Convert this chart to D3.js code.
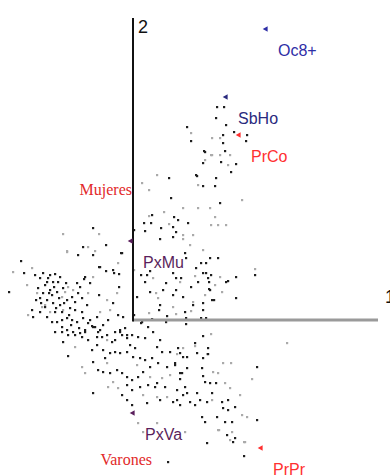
<!DOCTYPE html>
<html>
<head>
<meta charset="utf-8">
<script src="https://cdn.jsdelivr.net/npm/d3@7"></script>
<style>
  body { margin: 0; background: #fff; }
  svg { display: block; }
</style>
</head>
<body>
<div id="chart"></div>
<script>
// coordinates on factorial axes 1 and 2, in hundredths
let darkPoints = [
  [-112,59],[-109,47],[-124,28],[-55,65],[-40,65],[-34,53],[-27,49],[-19,47],[-14,46],[-11,67],
  [-49,41],[-56,37],[-43,37],[-34,25],[-14,33],[-98,45],[-90,47],[-83,45],[-78,46],[-73,43],
  [-93,42],[-86,38],[-80,38],[-75,38],[-95,32],[-90,27],[-83,30],[-76,28],[-93,22],[-86,20],
  [-80,17],[-73,15],[-66,20],[-61,23],[-55,27],[-51,22],[-63,12],[-58,10],[-51,8],[-46,15],
  [-93,8],[-86,3],[-81,-2],[-76,-2],[-71,0],[-66,2],[-61,0],[-56,-2],[-50,2],[-43,0],
  [-36,3],[-20,17],[-15,5],[-10,3],[-100,3],[-101,10],[-78,-12],[-71,-12],[-66,-10],[-60,-12],
  [-48,-12],[-40,-7],[-33,-10],[-26,-15],[-18,-12],[-13,-12],[-6,-15],[-51,-17],[-36,-17],
  [-88,35],[-81,25],[-70,32],[-67,37],[-88,13],[-78,8],[-71,8],[-97,20],
  [-85,42],[-79,33],[-74,22],[-69,17],[-64,5],[-58,18],[-53,33],[-84,27],[-92,17],[-77,12],
  [-62,-5],[-54,-8],[-45,-3],[-30,-5],[-25,0],[-8,-8],[-3,-25],[2,-28],[-45,-20],[-28,-38],
  [-71,-7],[-70,-22],[-65,-15],[-65,-36],[-58,-15],[-53,-13],[-48,-10],[-41,-6],[-38,-7],[-35,-12],
  [-31,-17],[-21,-22],[-18,-20],[-13,-10],[-11,-15],[-6,-18],[-1,-15],[5,-17],[12,-18],[15,-7],
  [9,-2],[20,-12],[27,-20],[24,-27],[29,-32],[37,-32],[45,-28],[50,-37],[-36,-25],[-41,-30],
  [-30,-30],[-23,-33],[-18,-32],[-13,-33],[-6,-32],[0,-37],[7,-38],[12,-40],[19,-38],[-40,-42],
  [-35,-50],[-30,-52],[-23,-53],[-16,-50],[-11,-53],[-6,-57],[-1,-60],[5,-57],[10,-52],[17,-47],
  [25,-43],[34,-47],[42,-43],[47,-53],[-6,-65],[-1,-70],[7,-67],[15,-65],[24,-63],[32,-67],
  [44,-70],[50,-75],[-40,-73],[-11,-75],[-6,-80],[-1,-85],[14,-83],[27,-80],[40,-82],[47,-85],
  [62,-23],[75,-28],[47,-33],[54,-37],[64,-33],[70,-38],[75,-34],[42,-45],[54,-48],[49,-53],
  [70,-56],[72,-62],[77,-63],[83,-63],[47,-59],[52,-67],[54,-73],[64,-73],[44,-80],[57,-82],
  [62,-85],[67,-80],[74,-82],[79,-73],[89,-82],[95,-80],[90,-88],[95,-90],[102,-87],[69,-97],
  [72,-102],[84,-97],[92,-102],[99,-102],[124,-47],[124,-100],[94,-115],[102,-118],[100,-122],[74,-123],
  [58,179],[90,177],[72,168],[88,158],[70,157],[103,156],[98,148],[63,145],[36,142],[83,142],
  [70,134],[82,134],[38,122],[87,117],[19,105],[11,97],[18,97],[45,100],[41,103],[55,97],
  [28,92],[40,93],[43,88],[1,90],[12,89],[27,81],[40,83],
  [52,67],[53,62],[77,62],[85,62],[63,52],[68,57],[73,57],[40,47],[43,42],[8,45],
  [14,45],[17,49],[12,38],[48,42],[70,47],[73,47],[75,42],[78,45],[95,39],[103,43],
  [65,38],[58,33],[43,30],[33,37],[40,25],[50,23],[77,30],[4,23],[17,28],[30,30],
  [70,17],[60,15],[52,8],[27,15],[26,10],[34,4],[53,2],[68,2],[73,2],[79,20],
  [103,22],[1,5],[19,1],[8,-3],[33,-2],[53,-4],[76,38],[93,38],[122,45],[76,31],
  [81,20],[70,10],[70,-16],[69,-48],
  [-40,92],[-50,73],[-27,75],[-12,67],[64,144],[-33,53],[-20,50],[-48,43],
  [84,213],[91,213],[83,202],[93,195],[54,193],[90,185],[101,188],[114,185],[113,179],[71,169],
  [92,169],[22,-67],[111,-136],[35,-142]
];

let lightPoints = [
  [-120,48],[-106,35],[-101,52],[-96,27],[-88,15],[-71,23],[-68,28],[-65,33],[-60,30],[-45,27],
  [-40,43],[-26,20],[-16,27],[-23,10],[-70,10],[-83,8],[-91,13],[-105,5],[-33,8],[-15,57],
  [-66,68],[-26,-20],
  [-58,-27],[-48,-53],[-51,-47],[-26,-43],[-20,-62],[4,-45],[17,-57],[29,-58],[37,-55],[-15,-68],
  [10,-75],[24,-77],[34,-77],[-25,-67],
  [44,-34],[50,-28],[62,-26],[80,-52],[85,-53],[90,-43],[98,-43],[92,-63],[79,-80],[97,-68],
  [107,-75],[119,-59],[154,-23],[109,-95],[114,-97],[85,-110],[99,-112],[112,-122],[52,-112],
  [24,145],[9,137],[16,130],[65,135],[72,160],[87,165],[97,165],[78,165],[95,155],[50,112],
  [65,112],[77,112],[82,103],[78,95],[85,95],[93,95],[109,120],[31,108],[16,104],[36,96],
  [50,85],[60,85],[50,81],
  [70,70],[57,75],[1,50],[20,42],[47,38],[62,44],[87,43],[82,35],[89,28],[122,51],
  [23,27],[25,22],[40,13],[60,18],[72,25],[43,6],[16,7],[58,9],[78,-14],[74,-34],
  [-70,86],[-34,86],[-45,73],[-66,69],[-38,69],
  [58,187],[79,182],[87,182],[79,165],[10,-112],[5,-103],[24,-103],[111,-122],[97,-120],[86,-110]
];

// active modalities (marked) and supplementary sex categories
let modNames = ["Oc8+", "SbHo", "PrCo", "PxMu", "PxVa", "PrPr"];
let modX = [133, 93, 106, -2, 0, 128];
let modY = [291, 223, 185, 79, -93, -128];
let modColors = ["#2e2ea6", "#2a2a7e", "#ff3030", "#5a1f5c", "#5a1f5c", "#ff3030"];

let sexNames = ["Mujeres", "Varones"];
let sexX = [-1, 19];
let sexY = [125, -145];

let axisNames = ["1", "2"];

const width = 390, height = 475;

const svg = d3.select('#chart')
  .append('svg')
  .attr('width', width)
  .attr('height', height);

const x = d3.scaleLinear().domain([-133, 257]).range([0, width]);
const y = d3.scaleLinear().domain([320, -155]).range([0, height]);

// points
svg.append('g')
  .selectAll('rect')
  .data(lightPoints)
  .enter()
  .append('rect')
  .attr('x', d => x(d[0]) - 1)
  .attr('y', d => y(d[1]) - 1)
  .attr('width', 2.2)
  .attr('height', 2.2)
  .attr('fill', '#aaaaaa');

svg.append('g')
  .selectAll('rect')
  .data(darkPoints)
  .enter()
  .append('rect')
  .attr('x', d => x(d[0]) - 1)
  .attr('y', d => y(d[1]) - 1)
  .attr('width', 2.2)
  .attr('height', 2.2)
  .attr('fill', '#1e1e1e');

// axes
svg.append('line')
  .attr('x1', x(0)).attr('x2', x(245))
  .attr('y1', y(0)).attr('y2', y(0))
  .attr('stroke', '#9a9a9a')
  .attr('stroke-width', 3);

svg.append('line')
  .attr('x1', x(0)).attr('x2', x(0))
  .attr('y1', y(302)).attr('y2', y(-1.5))
  .attr('stroke', '#111')
  .attr('stroke-width', 2);

svg.append('text')
  .attr('x', x(252)).attr('y', y(17))
  .attr('font-family', 'Liberation Sans, Arial, sans-serif')
  .attr('font-size', 18)
  .attr('fill', '#111')
  .text(axisNames[0]);

svg.append('text')
  .attr('x', x(5)).attr('y', y(287))
  .attr('font-family', 'Liberation Sans, Arial, sans-serif')
  .attr('font-size', 18)
  .attr('fill', '#111')
  .text(axisNames[1]);

// modality markers and labels
const mods = modNames.map((n, i) => ({ name: n, x: modX[i], y: modY[i], color: modColors[i] }));

svg.append('g')
  .selectAll('path')
  .data(mods)
  .enter()
  .append('path')
  .attr('d', d3.symbol().type(d3.symbolTriangle).size(14))
  .attr('transform', d => 'translate(' + x(d.x) + ',' + y(d.y) + ') rotate(-90)')
  .attr('fill', d => d.color);

svg.append('g')
  .selectAll('text')
  .data(mods)
  .enter()
  .append('text')
  .attr('x', d => x(d.x) + 12)
  .attr('y', d => y(d.y) + 27)
  .attr('font-family', 'Liberation Sans, Arial, sans-serif')
  .attr('font-size', 16)
  .attr('fill', d => d.color)
  .text(d => d.name);

svg.append('g')
  .selectAll('text')
  .data(sexNames)
  .enter()
  .append('text')
  .attr('x', (d, i) => x(sexX[i]))
  .attr('y', (d, i) => y(sexY[i]))
  .attr('text-anchor', 'end')
  .attr('font-family', 'Liberation Serif, Times New Roman, serif')
  .attr('font-size', 16)
  .attr('fill', '#e22a2a')
  .text(d => d);
</script>
</body>
</html>
